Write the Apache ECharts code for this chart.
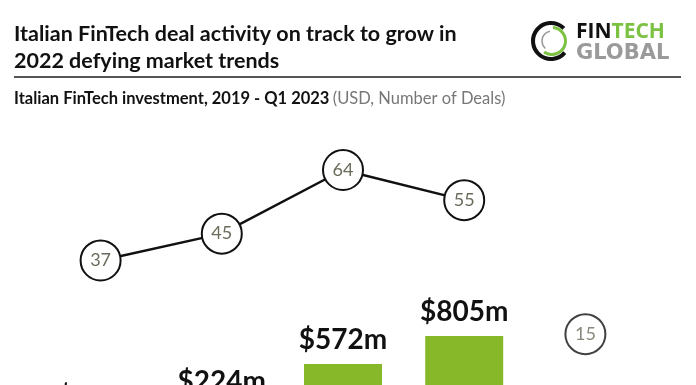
<!DOCTYPE html>
<html><head><meta charset="utf-8">
<script src="https://cdn.jsdelivr.net/npm/echarts@6/dist/echarts.min.js"></script>
<style>html,body{margin:0;padding:0;background:#fff}#c{width:696px;height:385px}</style>
</head><body><div id="c"></div>
<script>
const categories = ['2019', '2020', '2021', '2022', 'Q1 2023'];
const dealCounts = [37, 45, 64, 55, 15];
const investmentUSDm = [100, 224, 572, 805, 50];

const chart = echarts.init(document.getElementById('c'), null, {renderer: 'canvas'});
const lineData = dealCounts.map((v, i) => i < 4 ? v : '-');
const q1Data = dealCounts.map((v, i) => i === 4 ? v : '-');
const symbolStyle = {color: '#fff', borderColor: '#111', borderWidth: 2};
const symLabel = {show: true, position: 'inside', color: '#6b6b5c', fontFamily: 'Lato', fontSize: 18, formatter: p => p.value};

chart.setOption({
  animation: false,
  grid: [
    {left: 40, right: 50, top: 49.4, height: 335, outerBoundsMode: 'none'},
    {left: 40, right: 50, top: 312.6, height: 120, outerBoundsMode: 'none', containLabel: false}
  ],
  xAxis: [
    {type: 'category', data: categories, gridIndex: 0, show: false},
    {type: 'category', data: categories, gridIndex: 1, show: false}
  ],
  yAxis: [
    {type: 'value', gridIndex: 0, min: 0, max: 100, show: false},
    {type: 'value', gridIndex: 1, min: 0, max: 1000, show: false}
  ],
  series: [
    {type: 'bar', xAxisIndex: 1, yAxisIndex: 1, data: investmentUSDm, barWidth: 78,
     itemStyle: {color: '#86b82a'},
     label: {show: true, position: 'top', distance: 10, color: '#111', fontFamily: 'Lato', fontWeight: 'bold', fontSize: 28,
       formatter: p => '$' + p.value + 'm'}},
    {type: 'line', xAxisIndex: 0, yAxisIndex: 0, data: lineData, symbol: 'circle', symbolSize: 40,
     lineStyle: {color: '#111', width: 2.5}, itemStyle: symbolStyle, label: symLabel, z: 3},
    {type: 'scatter', xAxisIndex: 0, yAxisIndex: 0, data: q1Data, symbol: 'circle', symbolSize: 40,
     itemStyle: symbolStyle, label: symLabel, z: 3}
  ],
  graphic: [
    {type: 'text', left: 14, top: 23, style: {text: 'Italian FinTech deal activity on track to grow in', font: 'bold 21.5px Lato', fill: '#111'}},
    {type: 'text', left: 14, top: 50, style: {text: '2022 defying market trends', font: 'bold 21.5px Lato', fill: '#111'}},
    {type: 'line', shape: {x1: 14, y1: 77, x2: 681, y2: 77}, style: {stroke: '#555', lineWidth: 2}},
    {type: 'text', left: 14, top: 90, style: {
      text: '{a|Italian FinTech investment, 2019 - Q1 2023} {b|(USD, Number of Deals)}',
      rich: {a: {font: 'bold 16.5px Lato', fill: '#111'}, b: {font: '16.5px Lato', fill: '#777'}}}},
    {type: 'arc', shape: {cx: 551, cy: 41, r: 18, startAngle: 0.7, endAngle: 5.5}, style: {stroke: '#111', lineWidth: 4, fill: null}},
    {type: 'arc', shape: {cx: 552, cy: 41, r: 13.5, startAngle: -1.5, endAngle: 2.2}, style: {stroke: '#7cc242', lineWidth: 3, fill: null}},
    {type: 'arc', shape: {cx: 552, cy: 41, r: 10, startAngle: 2.3, endAngle: 4.5}, style: {stroke: '#999', lineWidth: 1.5, fill: null}},
    {type: 'text', left: 576, top: 22, style: {text: '{a|FIN}{b|TECH}', rich: {a: {font: 'bold 21px "Open Sans"', fill: '#111'}, b: {font: 'bold 21px "Open Sans"', fill: '#7cc242'}}}},
    {type: 'text', left: 576, top: 43, style: {text: 'GLOBAL', font: 'bold 21px "DejaVu Sans"', fill: '#9a9a9a'}}
  ]
});
</script></body></html>
